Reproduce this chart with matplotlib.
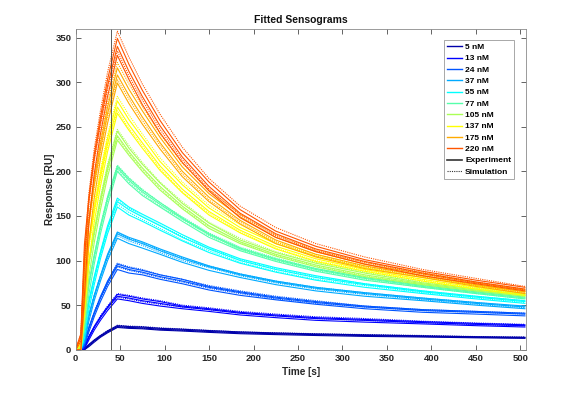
import matplotlib
matplotlib.use("Agg")
import matplotlib.pyplot as plt
from matplotlib.lines import Line2D

plt.rcParams['font.family'] = ['Liberation Sans', 'DejaVu Sans']

# sample times (s) shared by every curve
time_s = [0, 6, 10, 15, 21, 28, 36, 47, 60, 75, 95, 120, 150, 185, 225, 270, 325, 390, 450, 505]

conc_labels = ["5 nM", "13 nM", "24 nM", "37 nM", "55 nM", "77 nM",
               "105 nM", "137 nM", "175 nM", "220 nM"]
conc_colors = [(0, 0, 0.667), (0, 0, 1), (0, 0.333, 1), (0, 0.667, 1), (0, 1, 1),
               (0.333, 1, 0.667), (0.667, 1, 0.333), (1, 1, 0), (1, 0.667, 0), (1, 0.333, 0)]

# response (RU): experiment replicates and simulated fits, per concentration
exp_5 = [[0, 0, 0.5, 5, 10, 15, 20, 26, 25, 24.5, 23, 22, 20.5, 19, 18, 17, 16, 15, 14, 13.5],
         [0, 0, 0, 3.5, 8.5, 14, 19, 25, 24, 23.5, 22, 21, 19.5, 18, 17, 16, 15, 14.3, 13.4, 12.8],
         [0, 0, 1, 6, 11, 16, 21, 27, 26, 25.5, 24, 23, 21.5, 20, 18.8, 17.7, 16.7, 15.6, 14.6, 14]]
sim_5 = [[0, 0, 1, 5.5, 10.5, 16, 21.5, 27.5, 26.5, 26, 24.5, 23.3, 21.7, 20, 19, 18, 17, 16, 14.8, 14.3],
         [0, 0, 0.5, 4.5, 9.5, 15, 20, 25.5, 24.8, 24, 22.8, 21.6, 20.3, 19, 17.8, 16.8, 15.8, 14.8, 14, 13.3]]

exp_13 = [[0, 0, 3, 14, 25, 36, 47, 60, 58, 55, 52, 48, 45, 41, 38, 35, 33, 30.5, 28.5, 27],
          [0, 0, 1, 11, 22, 33, 44, 57, 55, 52, 49, 46, 43, 39, 36, 33, 31, 29, 27, 25.5],
          [0, 0, 4, 15, 26, 37, 48, 62, 60, 57, 54, 49, 46, 42, 39, 36, 34, 31.5, 29.5, 28]]
sim_13 = [[0, 0, 4, 15, 26, 38, 49, 63, 61, 58, 55, 50, 47, 43, 40, 37, 35, 32, 30, 28.5],
          [0, 0, 3, 14, 25, 36, 47, 59, 57, 54, 51, 48, 45, 41, 38, 35, 33, 30.3, 28.2, 26.8]]

exp_24 = [[0, 0, 7, 24, 41, 58, 75, 94, 90, 87, 82, 77, 70, 64, 58, 53, 48, 44, 42, 40],
          [0, 0, 4, 20, 37, 54, 71, 90, 86, 84, 79, 74, 67, 61, 56, 51, 46, 42, 40, 38],
          [0, 0, 9, 25, 42, 59, 77, 96, 92, 89, 84, 79, 71, 65, 59, 54, 49, 45, 43, 41]]
sim_24 = [[0, 1, 8, 25, 42, 60, 77, 97, 93, 90, 84, 79, 72, 66, 60, 55, 49, 45, 43, 41],
          [0, 0, 6, 24, 40, 57, 74, 93, 89, 86, 81, 76, 69, 63, 57, 52, 48, 44, 42, 40]]

exp_37 = [[0, 0, 13, 38, 60, 82, 105, 130, 124, 119, 111, 102, 93, 84, 76, 69, 63, 57, 52, 48],
          [0, 0, 8, 32, 55, 77, 100, 125, 119, 114, 107, 98, 89, 81, 73, 66, 60, 55, 50, 46],
          [0, 1, 16, 39, 61, 83, 107, 132, 126, 121, 113, 104, 94, 85, 77, 70, 64, 58, 53, 49]]
sim_37 = [[0, 1, 14, 39, 61, 83, 106, 131, 125, 120, 112, 103, 94, 85, 77, 70, 64, 58, 53, 48],
          [0, 0, 12, 37, 59, 81, 103, 128, 122, 117, 109, 100, 92, 83, 75, 68, 62, 56, 51, 47]]

exp_55 = [[0, 0, 22, 53, 80, 108, 136, 166, 157, 149, 139, 126, 113, 100, 90, 81, 73, 65, 59, 54],
          [0, 0, 13, 45, 73, 102, 130, 160, 151, 144, 134, 122, 109, 97, 87, 78, 70, 63, 57, 52],
          [0, 1, 26, 55, 82, 110, 139, 170, 160, 152, 142, 129, 115, 102, 92, 83, 74, 66, 60, 55]]
sim_55 = [[0, 1, 24, 54, 81, 109, 137, 168, 159, 150, 140, 127, 114, 101, 91, 82, 74, 66, 60, 55],
          [0, 0, 20, 52, 78, 106, 133, 163, 154, 146, 136, 123, 111, 98, 88, 79, 72, 64, 58, 53]]

exp_77 = [[0, 0, 35, 73, 104, 137, 169, 204, 190, 177, 163, 147, 129, 113, 101, 90, 80, 71, 64, 58],
          [0, 0, 21, 62, 96, 130, 162, 200, 186, 173, 160, 144, 126, 111, 99, 88, 78, 70, 63, 57],
          [0, 1, 42, 75, 106, 139, 171, 206, 192, 179, 165, 148, 130, 114, 102, 91, 81, 72, 65, 59]]
sim_77 = [[0, 1, 38, 75, 106, 139, 172, 207, 193, 180, 165, 149, 131, 115, 103, 91, 81, 72, 65, 59],
          [0, 0, 33, 72, 103, 135, 167, 202, 188, 175, 161, 146, 128, 112, 100, 89, 79, 70, 63, 57]]

exp_105 = [[0, 2, 50, 96, 130, 166, 202, 240, 222, 204, 183, 161, 139, 121, 107, 95, 84, 74, 67, 61],
           [0, 0, 30, 82, 120, 157, 194, 235, 218, 200, 179, 158, 136, 119, 105, 93, 82, 73, 66, 60],
           [0, 3, 59, 98, 133, 169, 206, 245, 226, 208, 187, 164, 142, 123, 109, 97, 86, 75, 68, 62]]
sim_105 = [[0, 3, 55, 99, 134, 171, 208, 247, 229, 210, 188, 166, 143, 125, 110, 98, 87, 76, 69, 63],
           [0, 1, 47, 95, 129, 164, 200, 238, 220, 202, 181, 159, 138, 120, 106, 94, 83, 73, 66, 60]]

exp_137 = [[0, 5, 65, 117, 155, 193, 231, 272, 252, 232, 206, 180, 155, 134, 116, 102, 90, 79, 70, 63],
           [0, 0, 39, 99, 143, 183, 222, 265, 246, 226, 201, 176, 151, 131, 113, 99, 88, 77, 68, 61],
           [0, 7, 76, 120, 159, 198, 237, 279, 258, 238, 211, 185, 159, 137, 119, 105, 92, 81, 72, 65]]
sim_137 = [[0, 7, 71, 122, 162, 202, 241, 284, 263, 242, 215, 188, 162, 140, 121, 107, 94, 83, 73, 66],
           [0, 4, 61, 115, 153, 190, 228, 268, 248, 229, 203, 177, 153, 132, 114, 100, 89, 78, 69, 62]]

exp_175 = [[0, 9, 83, 142, 185, 225, 265, 308, 285, 261, 232, 200, 171, 145, 123, 107, 94, 83, 73, 65],
           [0, 0, 50, 121, 170, 214, 254, 299, 276, 253, 225, 194, 166, 141, 119, 104, 91, 81, 71, 63],
           [0, 12, 96, 146, 190, 231, 272, 316, 292, 268, 238, 205, 175, 149, 126, 110, 96, 85, 75, 67]]
sim_175 = [[0, 11, 90, 148, 193, 235, 277, 322, 298, 273, 242, 209, 179, 152, 129, 112, 98, 87, 76, 68],
           [0, 7, 78, 140, 182, 222, 261, 303, 281, 257, 229, 197, 168, 143, 121, 105, 93, 82, 72, 64]]

exp_220 = [[0, 14, 102, 167, 214, 255, 296, 340, 312, 284, 251, 216, 183, 153, 130, 113, 99, 86, 76, 68],
           [0, 0, 61, 142, 197, 242, 284, 330, 303, 275, 243, 210, 178, 148, 126, 110, 96, 83, 74, 66],
           [0, 18, 118, 171, 219, 261, 303, 349, 320, 291, 257, 221, 188, 157, 133, 116, 101, 88, 78, 70]]
sim_220 = [[0, 17, 110, 175, 225, 268, 311, 357, 328, 298, 264, 227, 192, 161, 137, 119, 104, 90, 80, 71],
           [0, 10, 95, 163, 211, 251, 292, 335, 307, 280, 247, 213, 180, 151, 128, 111, 98, 85, 75, 67]]

experiments = [exp_5, exp_13, exp_24, exp_37, exp_55, exp_77, exp_105, exp_137, exp_175, exp_220]
simulations = [sim_5, sim_13, sim_24, sim_37, sim_55, sim_77, sim_105, sim_137, sim_175, sim_220]

injection_end = 40
x_ticks = [0, 50, 100, 150, 200, 250, 300, 350, 400, 450, 500]
y_ticks = [0, 50, 100, 150, 200, 250, 300, 350]

fig = plt.figure(figsize=(5.81, 3.93), dpi=100)
ax = fig.add_axes([0.13, 0.11, 0.775, 0.815])

for reps, sims, col in zip(experiments, simulations, conc_colors):
    for r in reps:
        ax.plot(time_s, r, color=col, lw=0.8)
    for s in sims:
        ax.plot(time_s, s, color=col, lw=0.8, linestyle=(0, (1, 1)))

ax.axvline(injection_end, color='#404040', lw=0.6)

ax.set_xlim(0, 506)
ax.set_ylim(0, 359)
ax.set_xticks(x_ticks)
ax.set_yticks(y_ticks)
ax.tick_params(direction='in', length=3.5, width=0.5, colors='#262626',
               labelsize=6.8, top=True, right=True, pad=3)
for lab in ax.get_xticklabels() + ax.get_yticklabels():
    lab.set_fontweight('bold')
for sp in ax.spines.values():
    sp.set_color('#8a8a8a')
    sp.set_linewidth(0.6)

ax.set_title('Fitted Sensograms', fontsize=7.5, fontweight='bold', pad=5, color='#111111')
ax.set_xlabel('Time [s]', fontsize=7.2, fontweight='bold', color='#262626', labelpad=3)
ax.set_ylabel('Response [RU]', fontsize=7.2, fontweight='bold', color='#262626', labelpad=0.5)

handles = [Line2D([], [], color=c, lw=1.0) for c in conc_colors]
handles.append(Line2D([], [], color='#333333', lw=1.2))
handles.append(Line2D([], [], color='#333333', lw=0.8, linestyle=(0, (1, 1))))
labels = conc_labels + ['Experiment', 'Simulation']
leg = ax.legend(handles, labels, loc='upper right', bbox_to_anchor=(0.974, 0.966),
                borderaxespad=0, handlelength=1.8, handletextpad=0.4,
                labelspacing=0.42, borderpad=0.35, fancybox=False, framealpha=1,
                edgecolor='#9a9a9a', prop={'weight': 'bold', 'size': 6.0})
leg.get_frame().set_linewidth(0.6)

fig.savefig('out.png', dpi=100)
